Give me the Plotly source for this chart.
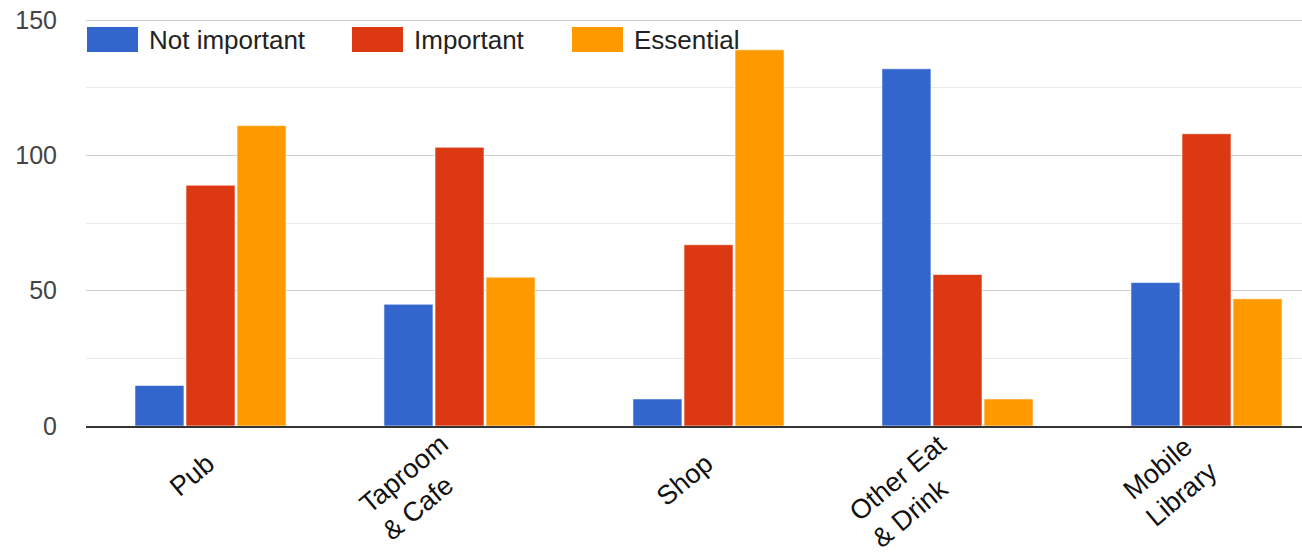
import math
import plotly.graph_objects as go

categories = ["Pub", "Taproom<br>& Cafe", "Shop", "Other Eat<br>& Drink", "Mobile<br>Library"]
not_important = [15, 45, 10, 132, 53]
important = [89, 103, 67, 56, 108]
essential = [111, 55, 139, 10, 47]
series_names = ["Not important", "Important", "Essential"]
colors = ["#3366cc", "#dc3912", "#ff9900"]

FONT = "Liberation Sans, Arial"
fig = go.Figure()
for name, vals, col in zip(series_names, [not_important, important, essential], colors):
    fig.add_trace(go.Bar(
        x=categories, y=vals, name=name,
        marker=dict(color=col, line=dict(color="rgba(255,255,255,0.6)", width=1)),
        showlegend=False,
    ))

# custom legend (wide swatches like the original)
leg_x = [87, 352, 572]
W, H = 1332, 554
ml, mr, mt, mb = 86, 1, 19, 128
pw = W - ml - mr
ph = H - mt - mb
for name, col, lx in zip(series_names, colors, leg_x):
    x0 = (lx - ml) / pw
    x1 = (lx + 51 - ml) / pw
    y0 = 1 - (52 - mt) / ph
    y1 = 1 - (27 - mt) / ph
    fig.add_shape(type="rect", xref="paper", yref="paper", x0=x0, x1=x1, y0=y0, y1=y1,
                  fillcolor=col, line=dict(width=0))
    fig.add_annotation(xref="paper", yref="paper", x=(lx + 60 - ml) / pw, y=1 - (40 - mt) / ph,
                       text=name, showarrow=False, xanchor="left", yanchor="middle",
                       font=dict(size=26, color="#222222", family=FONT))

# rotated category labels, lines left-aligned
fs = 27
ang = 40
rad = math.radians(ang)
rm_dx, rm_dy, frac = 6, 38, 0.7
for cat in categories:
    n = cat.count("<br>") + 1
    h = fs * 1.15 + (n - 1) * fs * 1.3 + 4
    xs = rm_dx + math.sin(rad) * (1 - frac) * h
    ys = -(rm_dy - math.cos(rad) * frac * h)
    fig.add_annotation(x=cat, xref="x", y=0, yref="paper", text=cat, textangle=-ang,
                       xanchor="right", yanchor="top", xshift=xs, yshift=ys, align="left",
                       showarrow=False, font=dict(size=fs, color="#111111", family=FONT))

fig.update_layout(
    width=W, height=H,
    margin=dict(l=ml, r=mr, t=mt, b=mb, autoexpand=False),
    plot_bgcolor="white", paper_bgcolor="white",
    barmode="group", bargap=0.385, bargroupgap=0.04,
    font=dict(family=FONT, size=25, color="#444444"),
)
fig.update_yaxes(
    range=[0, 150.4], tickvals=[0, 50, 100, 150], showgrid=True, gridcolor="#cccccc", gridwidth=1,
    minor=dict(tickvals=[25, 75, 125], showgrid=True, gridcolor="#ebebeb", gridwidth=1),
    zeroline=False, showline=False, ticks="", ticklabelstandoff=28, automargin=False,
    tickfont=dict(size=25, color="#444444"),
)
fig.update_xaxes(
    showticklabels=False, showline=True, linecolor="#333333",
    linewidth=2, ticks="", showgrid=False, automargin=False,
)

fig.write_html("out.html", config={"displayModeBar": False},
               post_script="document.body.style.margin='0';document.body.style.overflow='hidden';")
